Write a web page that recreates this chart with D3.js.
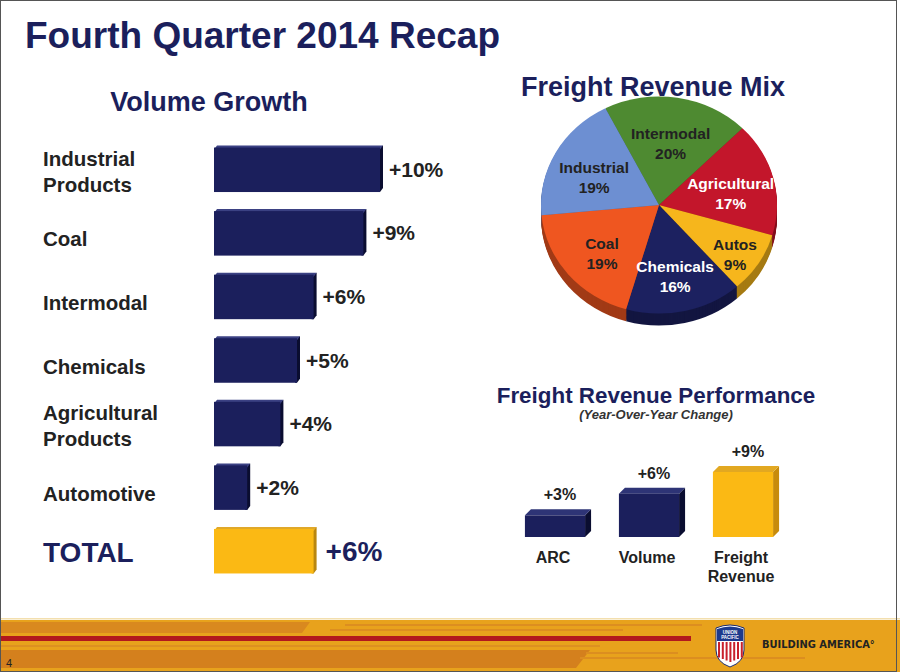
<!DOCTYPE html>
<html>
<head>
<meta charset="utf-8">
<script src="https://cdn.jsdelivr.net/npm/d3@7"></script>
<style>
  body { margin: 0; background: #fff; }
  svg { display: block; font-family: "Liberation Sans", Arial, sans-serif; }
</style>
</head>
<body>
<script>
// volume growth (percent, year over year)
const volumeCategories = ["Industrial\nProducts", "Coal", "Intermodal", "Chemicals", "Agricultural\nProducts", "Automotive", "TOTAL"];
const volumeValues = [10, 9, 6, 5, 4, 2, 6];

// freight revenue mix
const mixCategories = ["Intermodal", "Agricultural", "Autos", "Chemicals", "Coal", "Industrial"];
const mixValues = [20, 17, 9, 16, 19, 19];
const mixColors = ["#4e8a31", "#c3162b", "#f6b61c", "#1c2160", "#ef5620", "#6d8fd2"];
const mixTextColors = ["#222", "#fff", "#222", "#fff", "#222", "#222"];

// freight revenue performance
const perfCategories = ["ARC", "Volume", "Freight\nRevenue"];
const perfValues = [3, 6, 9];

const W = 900, H = 672;
const navy = "#1b1f5c", gold = "#fbb914";

const svg = d3.select("body").append("svg")
  .attr("width", W)
  .attr("height", H);

svg.append("rect").attr("width", W).attr("height", H).attr("fill", "#fff");

// titles
svg.append("text")
  .attr("x", 25).attr("y", 48)
  .attr("font-size", 37).attr("font-weight", "bold").attr("fill", navy)
  .text("Fourth Quarter 2014 Recap");

svg.append("text")
  .attr("x", 209).attr("y", 111).attr("text-anchor", "middle")
  .attr("font-size", 27).attr("font-weight", "bold").attr("fill", navy)
  .text("Volume Growth");

// ---- Volume growth bars ----
const x = d3.scaleLinear().domain([0, 10]).range([214, 380]);
const y = d3.scaleBand()
  .domain(volumeCategories)
  .range([138, 583])
  .paddingInner(0.3)
  .paddingOuter(0.15);

const vol = svg.append("g")
  .selectAll("g")
  .data(volumeCategories.map((c, i) => ({ c, v: volumeValues[i], total: c === "TOTAL" })))
  .join("g");

// right side shadow
vol.append("path")
  .attr("fill", d => d.total ? "#b9860f" : "#0a0d30")
  .attr("d", d => {
    const x1 = x(d.v), y0 = y(d.c), y1 = y0 + y.bandwidth();
    return `M${x1 - 2},${y0 + 1}L${x1 + 3},${y0 - 2}L${x1 + 3},${y1 - 4}L${x1},${y1}L${x1 - 2},${y1}Z`;
  });
// top face
vol.append("path")
  .attr("fill", d => d.total ? "#e0a82a" : "#3b4183")
  .attr("d", d => {
    const x1 = x(d.v), y0 = y(d.c);
    return `M${x(0)},${y0 + 2}L${x(0) + 3},${y0 - 2}L${x1 + 3},${y0 - 2}L${x1},${y0 + 2}Z`;
  });
vol.append("rect")
  .attr("x", x(0))
  .attr("y", d => y(d.c))
  .attr("width", d => x(d.v) - x(0))
  .attr("height", y.bandwidth())
  .attr("fill", d => d.total ? gold : navy);

// value labels
vol.append("text")
  .attr("x", d => x(d.v) + (d.total ? 12 : 9))
  .attr("y", d => y(d.c) + y.bandwidth() / 2 + (d.total ? 10 : 7))
  .attr("font-size", d => d.total ? 28 : 21)
  .attr("font-weight", "bold")
  .attr("fill", d => d.total ? navy : "#222")
  .text(d => "+" + d.v + "%");

// category labels
vol.append("text")
  .attr("x", 43)
  .attr("font-weight", "bold")
  .attr("font-size", d => d.total ? 28 : 20.5)
  .attr("fill", d => d.total ? navy : "#222")
  .each(function (d) {
    const lines = d.c.split("\n");
    const c = y(d.c) + y.bandwidth() / 2;
    d3.select(this).selectAll("tspan")
      .data(lines)
      .join("tspan")
      .attr("x", 43)
      .attr("y", (l, i) => lines.length === 1 ? c + (d.total ? 11 : 13) : c - 4 + i * 26)
      .text(l => l);
  });

// ---- Freight revenue mix pie ----
svg.append("text")
  .attr("x", 653).attr("y", 96).attr("text-anchor", "middle")
  .attr("font-size", 27).attr("font-weight", "bold").attr("fill", navy)
  .text("Freight Revenue Mix");

const cx = 659, cy = 205, rx = 118, tilt = 0.92, depth = 12;
const start = -27 * Math.PI / 180;
const pie = d3.pie().sort(null).startAngle(start).endAngle(start + 2 * Math.PI);
const arcs = pie(mixValues);
const arc = d3.arc().innerRadius(0).outerRadius(rx);
// narrow slices get their label pushed further out
const labelR = d => (d.endAngle - d.startAngle < 0.7 ? 90 : 74);

const pieG = svg.append("g");
// side of the disc
for (let k = depth; k > 0; k--) {
  pieG.append("g")
    .attr("transform", `translate(${cx},${cy + k}) scale(1,${tilt})`)
    .selectAll("path")
    .data(arcs)
    .join("path")
    .attr("d", arc)
    .attr("fill", (d, i) => d3.color(mixColors[i]).darker(1.1));
}
pieG.append("g")
  .attr("transform", `translate(${cx},${cy}) scale(1,${tilt})`)
  .selectAll("path")
  .data(arcs)
  .join("path")
  .attr("d", arc)
  .attr("fill", (d, i) => mixColors[i]);

pieG.append("g")
  .selectAll("text")
  .data(arcs)
  .join("text")
  .attr("text-anchor", "middle")
  .attr("font-size", 15.5)
  .attr("font-weight", "bold")
  .attr("fill", (d, i) => mixTextColors[i])
  .each(function (d, i) {
    const r = labelR(d);
    const [px, py] = d3.arc().innerRadius(r).outerRadius(r).centroid(d);
    const lx = cx + px, ly = cy + py * tilt;
    d3.select(this).selectAll("tspan")
      .data([mixCategories[i], mixValues[i] + "%"])
      .join("tspan")
      .attr("x", lx)
      .attr("y", (t, j) => ly + 1 + j * 20)
      .text(t => t);
  });

// ---- Freight revenue performance ----
svg.append("text")
  .attr("x", 656).attr("y", 403).attr("text-anchor", "middle")
  .attr("font-size", 22.4).attr("font-weight", "bold").attr("fill", navy)
  .text("Freight Revenue Performance");
svg.append("text")
  .attr("x", 656).attr("y", 419).attr("text-anchor", "middle")
  .attr("font-size", 13).attr("font-weight", "bold").attr("font-style", "italic").attr("fill", "#333")
  .text("(Year-Over-Year Change)");

const px = d3.scaleBand()
  .domain(perfCategories)
  .range([508, 790])
  .paddingInner(0.36)
  .paddingOuter(0.18);
const py = d3.scaleLinear().domain([0, 9]).range([537, 472]);
const pd = 6;

const perf = svg.append("g")
  .selectAll("g")
  .data(perfCategories.map((c, i) => ({ c, v: perfValues[i], last: i === perfCategories.length - 1 })))
  .join("g");

perf.append("path")
  .attr("fill", d => d.last ? "#c78b0c" : "#0a0d30")
  .attr("d", d => {
    const x1 = px(d.c) + px.bandwidth(), y0 = py(d.v), y1 = py(0);
    return `M${x1},${y0}L${x1 + pd},${y0 - pd}L${x1 + pd},${y1 - pd}L${x1},${y1}Z`;
  });
perf.append("path")
  .attr("fill", d => d.last ? "#e2a821" : "#2e3476")
  .attr("d", d => {
    const x0 = px(d.c), x1 = x0 + px.bandwidth(), y0 = py(d.v);
    return `M${x0},${y0}L${x0 + pd},${y0 - pd}L${x1 + pd},${y0 - pd}L${x1},${y0}Z`;
  });
perf.append("rect")
  .attr("x", d => px(d.c))
  .attr("y", d => py(d.v))
  .attr("width", px.bandwidth())
  .attr("height", d => py(0) - py(d.v))
  .attr("fill", d => d.last ? gold : navy);

perf.append("text")
  .attr("x", d => px(d.c) + px.bandwidth() / 2 + 5)
  .attr("y", d => py(d.v) - pd - 9)
  .attr("text-anchor", "middle")
  .attr("font-size", 16).attr("font-weight", "bold").attr("fill", "#222")
  .text(d => "+" + d.v + "%");

perf.append("text")
  .attr("text-anchor", "middle")
  .attr("font-size", 16).attr("font-weight", "bold").attr("fill", "#222")
  .each(function (d) {
    d3.select(this).selectAll("tspan")
      .data(d.c.split("\n"))
      .join("tspan")
      .attr("x", px(d.c) + px.bandwidth() / 2 - 2)
      .attr("y", (t, j) => 563 + j * 19)
      .text(t => t);
  });

// ---- footer band ----
const foot = svg.append("g");
foot.append("rect").attr("x", 0).attr("y", 618).attr("width", W).attr("height", 1.5).attr("fill", "#f3dfae");
foot.append("rect").attr("x", 0).attr("y", 620).attr("width", W).attr("height", 52).attr("fill", "#e8a21c");
foot.append("path").attr("fill", "#d9891f").attr("d", "M0,622H310L302,633H0Z");
foot.append("path").attr("fill", "#dc8e20").attr("d", "M345,624H702V626H345Z");
foot.append("path").attr("fill", "#dc8e20").attr("d", "M330,629H623V631H330Z");
foot.append("rect").attr("x", 0).attr("y", 636).attr("width", 691).attr("height", 5).attr("fill", "#b2181d");
foot.append("rect").attr("x", 0).attr("y", 645).attr("width", 600).attr("height", 2).attr("fill", "#dd9120");
foot.append("path").attr("fill", "#d4801d").attr("d", "M0,650H590L576,668H0Z");
foot.append("path").attr("fill", "#dc8e20").attr("d", "M586,652H678V654H586Z");
foot.append("path").attr("fill", "#dc8e20").attr("d", "M580,657H805V659H580Z");

// shield logo
const sx = 714, sy = 624;
foot.append("path")
  .attr("fill", "#fff").attr("stroke", "#1b2a6b").attr("stroke-width", 1)
  .attr("d", `M${sx + 2},${sy + 4}Q${sx + 16},${sy - 2} ${sx + 30},${sy + 4}L${sx + 30},${sy + 26}Q${sx + 30},${sy + 38} ${sx + 16},${sy + 43}Q${sx + 2},${sy + 38} ${sx + 2},${sy + 26}Z`);
foot.append("path")
  .attr("fill", "#1d3a8c")
  .attr("d", `M${sx + 3},${sy + 5}Q${sx + 16},${sy} ${sx + 29},${sy + 5}L${sx + 29},${sy + 17}L${sx + 3},${sy + 17}Z`);
for (let k = 0; k < 7; k++) {
  foot.append("rect")
    .attr("x", sx + 4 + k * 3.8).attr("y", sy + 18)
    .attr("width", 2).attr("height", 20 - Math.abs(k - 3) * 1.5)
    .attr("fill", "#c8202b");
}
foot.append("text").attr("x", sx + 16).attr("y", sy + 10).attr("text-anchor", "middle")
  .attr("font-size", 4.5).attr("font-weight", "bold").attr("fill", "#fff").text("UNION");
foot.append("text").attr("x", sx + 16).attr("y", sy + 15).attr("text-anchor", "middle")
  .attr("font-size", 4.5).attr("font-weight", "bold").attr("fill", "#fff").text("PACIFIC");
foot.append("text").attr("x", 762).attr("y", 648)
  .attr("font-size", 11).attr("font-weight", "bold").attr("fill", "#222")
  .attr("font-family", "'Liberation Sans Narrow', 'DejaVu Sans Condensed', sans-serif")
  .text("BUILDING AMERICA\u00b0");
foot.append("text").attr("x", 6).attr("y", 667)
  .attr("font-size", 11).attr("fill", "#222").text("4");

// slide frame
svg.append("rect")
  .attr("x", 0.5).attr("y", 0.5).attr("width", 896).attr("height", H - 1)
  .attr("fill", "none").attr("stroke", "#555").attr("stroke-width", 1);
</script>
</body>
</html>
